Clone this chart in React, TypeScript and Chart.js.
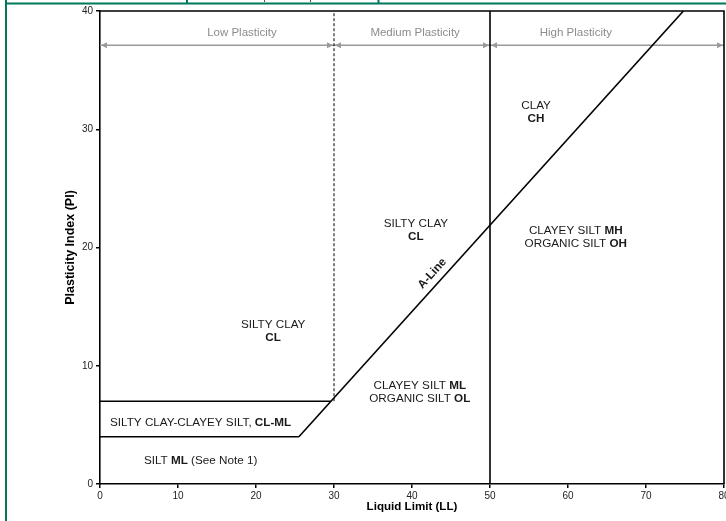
import React, { useEffect, useRef } from "react";
import { Chart, registerables } from "chart.js";

Chart.register(...registerables);

// ---- data ----
const xTicks = [0, 10, 20, 30, 40, 50, 60, 70, 80];
const yTicks = [0, 10, 20, 30, 40];

const clMlUpper = [{ x: 0, y: 7 }, { x: 29.6, y: 7 }];
const clMlLower = [{ x: 0, y: 4 }, { x: 25.5, y: 4 }];
const aLine = [{ x: 25.5, y: 4 }, { x: 74.8, y: 40 }];
const ll30Divider = [{ x: 30, y: 7 }, { x: 30, y: 40 }];
const ll50Divider = [{ x: 50, y: 0 }, { x: 50, y: 40 }];

const lowArrow = [{ x: 0, y: 37.1 }, { x: 30, y: 37.1 }];
const mediumArrow = [{ x: 30, y: 37.1 }, { x: 50, y: 37.1 }];
const highArrow = [{ x: 50, y: 37.1 }, { x: 80, y: 37.1 }];

const bandLabels = [
  { text: "Low Plasticity", x: 18.2, y: 38.15 },
  { text: "Medium Plasticity", x: 40.4, y: 38.15 },
  { text: "High Plasticity", x: 61.0, y: 38.15 },
];

// each line: parts of [text, bold]
const regionLabels: { x: number; y: number; parts: [string, boolean][] }[] = [
  { x: 55.9, y: 32.0, parts: [["CLAY", false]] },
  { x: 55.9, y: 30.9, parts: [["CH", true]] },
  { x: 40.5, y: 22.0, parts: [["SILTY CLAY", false]] },
  { x: 40.5, y: 20.9, parts: [["CL", true]] },
  { x: 61.0, y: 21.4, parts: [["CLAYEY SILT ", false], ["MH", true]] },
  { x: 61.0, y: 20.3, parts: [["ORGANIC SILT ", false], ["OH", true]] },
  { x: 22.2, y: 13.5, parts: [["SILTY CLAY", false]] },
  { x: 22.2, y: 12.4, parts: [["CL", true]] },
  { x: 41.0, y: 8.3, parts: [["CLAYEY SILT ", false], ["ML", true]] },
  { x: 41.0, y: 7.2, parts: [["ORGANIC SILT ", false], ["OL", true]] },
  { x: 12.9, y: 5.2, parts: [["SILTY CLAY-CLAYEY SILT, ", false], ["CL-ML", true]] },
  { x: 12.9, y: 2.0, parts: [["SILT ", false], ["ML", true], [" (See Note 1)", false]] },
];

const aLineLabel = { text: "A-Line", x: 42.6, y: 17.8 };

const FONT = "'Liberation Sans', Arial, sans-serif";
const REGION_SIZE = 11.7;
const BAND_SIZE = 11.5;
const ARROW_DATASET_COUNT = 3;

const textPlugin = {
  id: "chartText",
  afterDatasetsDraw(chart: any) {
    const { ctx, scales } = chart;
    const xs = scales.x;
    const ys = scales.y;
    ctx.save();
    // arrowheads on the arrow datasets (last datasets)
    const dsList = chart.data.datasets;
    ctx.fillStyle = "#999";
    for (let i = dsList.length - ARROW_DATASET_COUNT; i < dsList.length; i++) {
      const pts = dsList[i].data;
      const a = pts[0];
      const b = pts[pts.length - 1];
      const ax = xs.getPixelForValue(a.x) + 1;
      const bx = xs.getPixelForValue(b.x) - 1;
      const ay = ys.getPixelForValue(a.y);
      ctx.beginPath();
      ctx.moveTo(ax, ay);
      ctx.lineTo(ax + 6, ay - 3);
      ctx.lineTo(ax + 6, ay + 3);
      ctx.closePath();
      ctx.fill();
      ctx.beginPath();
      ctx.moveTo(bx, ay);
      ctx.lineTo(bx - 6, ay - 3);
      ctx.lineTo(bx - 6, ay + 3);
      ctx.closePath();
      ctx.fill();
    }
    ctx.textBaseline = "middle";
    // band labels
    ctx.font = `${BAND_SIZE}px ${FONT}`;
    ctx.fillStyle = "#8c8c8c";
    ctx.textAlign = "center";
    bandLabels.forEach((l) => {
      ctx.fillText(l.text, xs.getPixelForValue(l.x), ys.getPixelForValue(l.y));
    });
    // region labels
    ctx.fillStyle = "#1a1a1a";
    ctx.textAlign = "left";
    regionLabels.forEach((l) => {
      let total = 0;
      l.parts.forEach(([t, b]) => {
        ctx.font = `${b ? "bold " : ""}${REGION_SIZE}px ${FONT}`;
        total += ctx.measureText(t).width;
      });
      let px = xs.getPixelForValue(l.x) - total / 2;
      const py = ys.getPixelForValue(l.y);
      l.parts.forEach(([t, b]) => {
        ctx.font = `${b ? "bold " : ""}${REGION_SIZE}px ${FONT}`;
        ctx.fillText(t, px, py);
        px += ctx.measureText(t).width;
      });
    });
    // A-line label
    const p0x = xs.getPixelForValue(aLine[0].x);
    const p0y = ys.getPixelForValue(aLine[0].y);
    const p1x = xs.getPixelForValue(aLine[1].x);
    const p1y = ys.getPixelForValue(aLine[1].y);
    const ang = Math.atan2(p1y - p0y, p1x - p0x);
    ctx.translate(xs.getPixelForValue(aLineLabel.x), ys.getPixelForValue(aLineLabel.y));
    ctx.rotate(ang);
    ctx.font = `bold ${REGION_SIZE}px ${FONT}`;
    ctx.textAlign = "center";
    ctx.fillText(aLineLabel.text, 0, 0);
    ctx.restore();
  },
  afterDraw(chart: any) {
    const { ctx, chartArea } = chart;
    ctx.save();
    // plot frame top & right
    ctx.strokeStyle = "#000";
    ctx.lineWidth = 1.6;
    ctx.beginPath();
    ctx.moveTo(chartArea.left, chartArea.top);
    ctx.lineTo(chartArea.right, chartArea.top);
    ctx.lineTo(chartArea.right, chartArea.bottom);
    ctx.stroke();
    // page frame (green)
    ctx.strokeStyle = "#00785c";
    ctx.lineWidth = 2;
    ctx.beginPath();
    ctx.moveTo(6, 0);
    ctx.lineTo(6, 521);
    ctx.moveTo(5, 3.5);
    ctx.lineTo(760, 3.5);
    ctx.moveTo(187, 0);
    ctx.lineTo(187, 3);
    ctx.moveTo(378.5, 0);
    ctx.lineTo(378.5, 3);
    ctx.stroke();
    ctx.strokeStyle = "#555";
    ctx.lineWidth = 1;
    ctx.beginPath();
    ctx.moveTo(264.5, 0);
    ctx.lineTo(264.5, 2);
    ctx.moveTo(310.5, 0);
    ctx.lineTo(310.5, 2);
    ctx.stroke();
    ctx.restore();
  },
};

function lineDs(data: any[], extra: any = {}) {
  return {
    data,
    showLine: true,
    borderColor: "#000",
    backgroundColor: "#000",
    borderWidth: 1.6,
    pointRadius: 0,
    pointHoverRadius: 0,
    ...extra,
  };
}

function arrowDs(data: any[]) {
  return lineDs(data, {
    borderColor: "#999",
    backgroundColor: "#999",
    borderWidth: 1.5,
    clip: false,
  });
}

export default function App() {
  const ref = useRef<HTMLCanvasElement>(null);
  useEffect(() => {
    if (!ref.current) return;
    const chart = new Chart(ref.current, {
      type: "scatter",
      data: {
        datasets: [
          lineDs(clMlUpper),
          lineDs(clMlLower),
          lineDs(aLine),
          lineDs(ll30Divider, { borderWidth: 1, borderDash: [3, 2] }),
          lineDs(ll50Divider),
          arrowDs(lowArrow),
          arrowDs(mediumArrow),
          arrowDs(highArrow),
        ] as any,
      },
      options: {
        animation: false,
        responsive: false,
        devicePixelRatio: 1,
        layout: { padding: { top: 11, right: 36, left: 0, bottom: 0 } },
        plugins: { legend: { display: false }, tooltip: { enabled: false } },
        events: [],
        scales: {
          x: {
            type: "linear",
            min: 0,
            max: 80,
            afterBuildTicks: (s: any) => {
              s.ticks = xTicks.map((v) => ({ value: v }));
            },
            afterFit: (s: any) => {
              s.height = 37;
            },
            ticks: { color: "#222", font: { family: FONT, size: 10 }, padding: 2, maxRotation: 0 },
            grid: { display: true, drawOnChartArea: false, drawTicks: true, tickLength: 4, color: "#000", lineWidth: 1.5 },
            border: { display: true, color: "#000", width: 1.6 },
            title: {
              display: true,
              text: "Liquid Limit (LL)",
              color: "#000",
              font: { family: FONT, size: 11.6, weight: "bold" },
              padding: { top: 0, bottom: 7 },
            },
          },
          y: {
            type: "linear",
            min: 0,
            max: 40,
            afterBuildTicks: (s: any) => {
              s.ticks = yTicks.map((v) => ({ value: v }));
            },
            afterFit: (s: any) => {
              s.width = 100;
            },
            ticks: { color: "#222", font: { family: FONT, size: 10 }, padding: 3 },
            grid: { display: true, drawOnChartArea: false, drawTicks: true, tickLength: 4, color: "#000", lineWidth: 1.5 },
            border: { display: true, color: "#000", width: 1.6 },
            title: {
              display: true,
              text: "Plasticity Index (PI)",
              color: "#000",
              font: { family: FONT, size: 12.5, weight: "bold" },
              padding: { top: 63, bottom: 0 },
            },
          },
        },
      },
      plugins: [textPlugin],
    } as any);
    return () => chart.destroy();
  }, []);
  return (
    <div
      style={{
        position: "fixed",
        left: 0,
        top: 0,
        width: 726,
        height: 521,
        overflow: "hidden",
        background: "#fff",
      }}
    >
      <canvas ref={ref} width={760} height={521} style={{ display: "block" }} />
    </div>
  );
}
